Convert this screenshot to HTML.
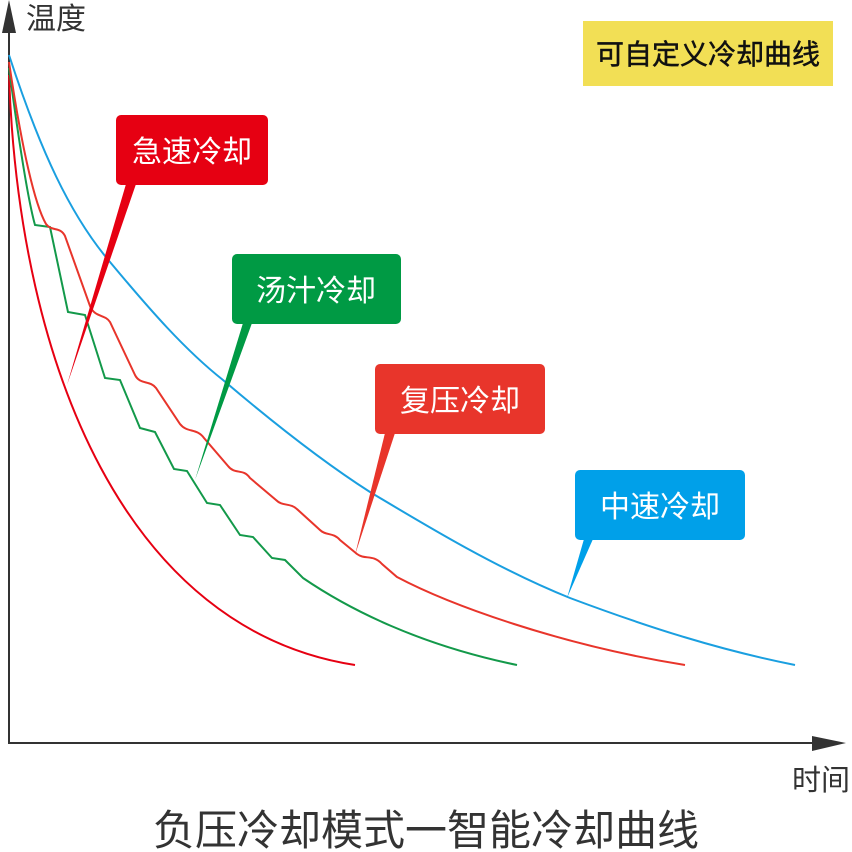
<!DOCTYPE html>
<html><head><meta charset="utf-8"><style>
html,body{margin:0;padding:0;background:#fff;}
svg{display:block;font-family:"Liberation Sans","Noto Sans CJK SC",sans-serif;}
</style></head><body>
<svg width="852" height="852" viewBox="0 0 852 852" xmlns="http://www.w3.org/2000/svg">
<rect width="852" height="852" fill="#fff"/>
<line x1="9" y1="28" x2="9" y2="744" stroke="#333" stroke-width="2"/>
<polygon points="9,0 2,33 16,33" fill="#333"/>
<line x1="8" y1="743" x2="818" y2="743" stroke="#333" stroke-width="2"/>
<polygon points="846,743 812,736 812,751" fill="#333"/>
<text x="26" y="29" font-size="30" fill="#333">温度</text>
<text x="792" y="790" font-size="29" fill="#333">时间</text>
<text x="426" y="845" font-size="42" fill="#333" text-anchor="middle">负压冷却模式一智能冷却曲线</text>
<rect x="583" y="21" width="250" height="65" fill="#f2df55"/>
<text x="708" y="64" font-size="28" fill="#111" stroke="#111" stroke-width="0.5" text-anchor="middle">可自定义冷却曲线</text>
<path d="M9,55 C40,150 70,215 110,262 C150,310 185,350 223,380 C270,420 320,460 370,492 C430,528 500,570 570,598 C650,628 720,650 795,665" fill="none" stroke="#1a9fe0" stroke-width="2"/>
<path d="M9,75 C19,370 128,630 355,665" fill="none" stroke="#e60012" stroke-width="2"/>
<path d="M9,68 C20,150 28,200 35,225 L50,227 L68,312 L85,315 L105,378 L120,380 L140,428 L155,432 L174,469 L187,471 L207,503 L220,505 L240,535 L253,537 L272,558 L285,560 L303,578 C350,610 420,645 517,665" fill="none" stroke="#13994a" stroke-width="2"/>
<path d="M9,62 C22,150 35,205 46,224 C52,232 60,226 65,236 L90,306 C95,318 105,314 110,322 L135,375 C140,385 150,380 156,388 L180,424 C187,433 197,428 204,438 L228,466 C235,475 243,468 250,478 L276,500 C283,507 290,502 298,510 L320,530 C326,536 333,532 340,540 L357,554 C365,560 373,554 382,564 L397,577 C450,605 560,645 685,665" fill="none" stroke="#e8352b" stroke-width="2"/>
<polygon points="126,184 136,184 67,385" fill="#e60012"/>
<rect x="116" y="115" width="152" height="70" rx="5" fill="#e60012"/>
<text x="192" y="162" font-size="30" fill="#fff" text-anchor="middle">急速冷却</text>
<polygon points="243,323 252,323 195,480" fill="#009a44"/>
<rect x="232" y="254" width="169" height="70" rx="5" fill="#009a44"/>
<text x="316" y="301" font-size="30" fill="#fff" text-anchor="middle">汤汁冷却</text>
<polygon points="385,433 395,433 355,555" fill="#e8352b"/>
<rect x="375" y="364" width="170" height="70" rx="5" fill="#e8352b"/>
<text x="460" y="411" font-size="30" fill="#fff" text-anchor="middle">复压冷却</text>
<polygon points="584,539 593,539 567,598" fill="#00a0e9"/>
<rect x="575" y="470" width="170" height="70" rx="5" fill="#00a0e9"/>
<text x="660" y="517" font-size="30" fill="#fff" text-anchor="middle">中速冷却</text>
</svg>
</body></html>
